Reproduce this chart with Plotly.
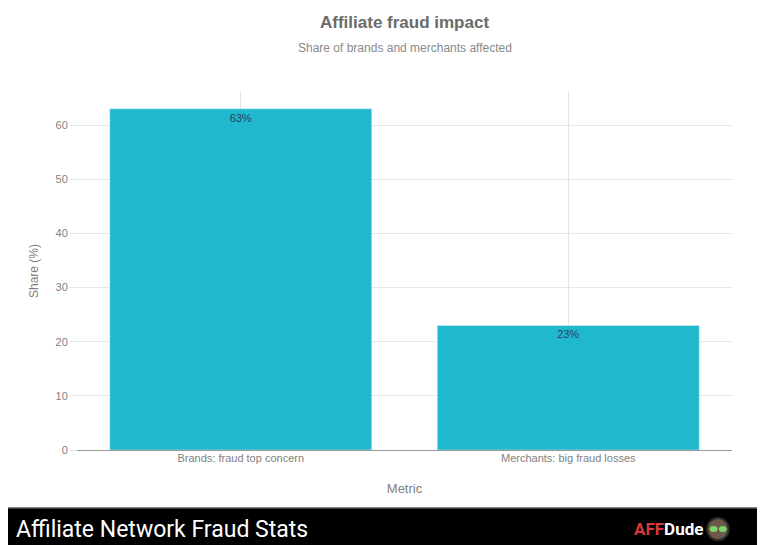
import plotly.graph_objects as go

# data
metrics = ["Brands: fraud top concern", "Merchants: big fraud losses"]
shares = [63, 23]
share_labels = ["63%", "23%"]

fig = go.Figure()
fig.add_trace(go.Bar(x=metrics, y=shares, text=share_labels,
                     textposition="inside", insidetextanchor="end",
                     textfont=dict(color="#2a3f5f", size=11),
                     marker=dict(color="#1fb8cd"), showlegend=False))

# page has an 8px body margin, so the figure is 8px smaller than the window
fig.update_layout(
    width=757, height=537,
    margin=dict(l=69, r=33, t=84, b=95),
    paper_bgcolor="white", plot_bgcolor="white",
    font=dict(family="Liberation Sans, Arial, sans-serif", color="#7f7f7f", size=11),
    bargap=0.2,
    xaxis=dict(title=dict(text="Metric", font=dict(size=13, color="#7f7f7f"), standoff=20),
               showgrid=True, gridcolor="#e3e3e3", tickfont=dict(size=11)),
    yaxis=dict(title=dict(text="Share (%)", font=dict(size=12, color="#7f7f7f"), standoff=14),
               range=[0, 66.1], dtick=10, showgrid=True, gridcolor="#e8e8e8",
               zeroline=True, zerolinecolor="#999999", zerolinewidth=1,
               ticks="outside", ticklen=6, tickcolor="#e3e3e3"),
)

# title + subtitle
fig.add_annotation(text="<b>Affiliate fraud impact</b>", xref="paper", yref="paper",
                   x=0.5, y=1.1955, yanchor="middle", showarrow=False,
                   font=dict(size=17, color="#6b6b6b"))
fig.add_annotation(text="Share of brands and merchants affected", xref="paper", yref="paper",
                   x=0.5, y=1.1229, yanchor="middle", showarrow=False,
                   font=dict(size=12, color="#8a8a8a"))

# bottom banner
fig.add_shape(type="rect", xref="paper", yref="paper", x0=-0.2, x1=1.1,
              y0=-0.27, y1=-0.162, fillcolor="black", line=dict(width=0), layer="above")
fig.add_shape(type="line", xref="paper", yref="paper", x0=-0.2, x1=1.1,
              y0=-0.162, y1=-0.162, line=dict(color="#555555", width=1.5))
fig.add_annotation(text="Affiliate Network Fraud Stats", xref="paper", yref="paper",
                   x=-0.0962, xanchor="left", y=-0.2207, yanchor="middle", showarrow=False,
                   font=dict(size=23, color="white", family="Roboto, sans-serif"))
fig.add_annotation(text="<b><span style='color:#d9393a'>AFF</span>Dude</b>", xref="paper", yref="paper",
                   x=0.9588, xanchor="right", y=-0.2207, yanchor="middle", showarrow=False,
                   font=dict(size=17, color="white", family="Roboto, sans-serif"))
# little avatar next to the logo
fig.add_shape(type="circle", xref="paper", yref="paper", x0=0.962, x1=0.995,
              y0=-0.252, y1=-0.19, fillcolor="#6b5a4a", line=dict(color="#2b2b2b", width=2),
              layer="above")
fig.add_shape(type="circle", xref="paper", yref="paper", x0=0.966, x1=0.978,
              y0=-0.229, y1=-0.212, fillcolor="#7fd36a", line=dict(width=0), layer="above")
fig.add_shape(type="circle", xref="paper", yref="paper", x0=0.980, x1=0.992,
              y0=-0.229, y1=-0.212, fillcolor="#7fd36a", line=dict(width=0), layer="above")

fig.write_html("out.html")
